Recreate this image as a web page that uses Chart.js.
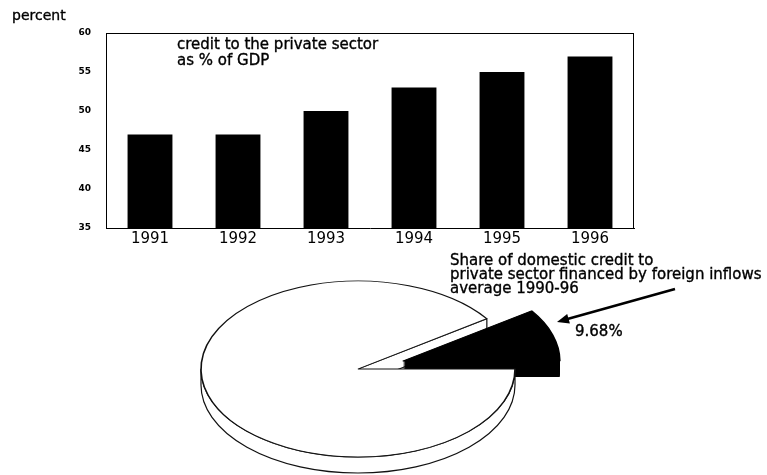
<!DOCTYPE html>
<html lang="en">
<head>
<meta charset="UTF-8">
<title>Credit to the private sector</title>
<script src="https://cdn.jsdelivr.net/npm/chart.js"></script>
<style>
    body {
        margin: 0;
        width: 767px;
        height: 475px;
        overflow: hidden;
        background: #fff;
        position: relative;
        font-family: 'DejaVu Sans', sans-serif;
        color: #000;
    }

    canvas { position: absolute; left: 0; }
    #grafico-barras { top: 0; }
    #grafico-pizza { top: 240px; }

    .texto { position: absolute; white-space: nowrap; -webkit-text-stroke: 0.35px #000; }
    #percent { left: 12px; top: 8px; font-size: 14px; line-height: 14px; }
    #credito { left: 177px; top: 36px; font-size: 15px; line-height: 16px; }
    #parcela { left: 450px; top: 253px; font-size: 15px; line-height: 14px; }
    #valor { left: 575px; top: 324px; font-size: 15px; line-height: 15px; }
</style>
</head>

<body>
    <canvas id="grafico-barras" width="767" height="250"></canvas>
    <canvas id="grafico-pizza" width="767" height="235"></canvas>

    <div class="texto" id="percent">percent</div>
    <div class="texto" id="credito">credit to the private sector<br>as % of GDP</div>
    <div class="texto" id="parcela">Share of domestic credit to<br>private sector financed by foreign inflows<br>average 1990-96</div>
    <div class="texto" id="valor"></div>

<script>
    // bar chart data
    const years = ['1991', '1992', '1993', '1994', '1995', '1996'];
    const creditGdp = [47, 47, 50, 53, 55, 57];
    const yTicks = [35, 40, 45, 50, 55, 60];

    // pie data (percent of domestic credit)
    const sliceNames = ['Financed by foreign inflows', 'Other'];
    const sliceShare = [9.68, 90.32];

    // 3d look of the pie
    const SQUASH = 88 / 157;
    const DEPTH = 16;
    const EXPLODE = [47, 0];

    Chart.defaults.font.family = "'DejaVu Sans', sans-serif";
    Chart.defaults.color = '#000';

    document.getElementById('valor').textContent = sliceShare[0].toFixed(2) + '%';

    // box around the plot (top and right sides)
    const frame = {
        id: 'frame',
        afterDraw(chart) {
            const { ctx, chartArea: a } = chart;
            ctx.save();
            ctx.strokeStyle = '#000';
            ctx.lineWidth = 1;
            ctx.beginPath();
            ctx.moveTo(a.left, a.top + 0.5);
            ctx.lineTo(a.right, a.top + 0.5);
            ctx.moveTo(a.right - 0.5, a.top);
            ctx.lineTo(a.right - 0.5, a.bottom);
            ctx.stroke();
            ctx.restore();
        }
    };

    function gerarGraficoBarra() {
        new Chart(document.getElementById('grafico-barras'), {
            type: 'bar',
            data: {
                labels: years,
                datasets: [{
                    data: creditGdp,
                    backgroundColor: '#000',
                    borderWidth: 0,
                    categoryPercentage: 1,
                    barPercentage: 0.51
                }]
            },
            options: {
                responsive: false,
                animation: false,
                devicePixelRatio: 1,
                layout: { padding: { top: 33, left: 0, right: 133, bottom: 2 } },
                scales: {
                    x: {
                        grid: { display: false, drawTicks: false },
                        border: { display: true, color: '#000', width: 1 },
                        ticks: { padding: 2, maxRotation: 0, autoSkip: false, font: { size: 15 } },
                        afterFit(scale) { scale.height = 20; }
                    },
                    y: {
                        min: yTicks[0],
                        max: yTicks[yTicks.length - 1],
                        grid: { display: false, drawTicks: false },
                        border: { display: true, color: '#000', width: 1 },
                        ticks: { padding: 15, font: { size: 9, weight: 'bold' } },
                        afterBuildTicks(scale) { scale.ticks = yTicks.map(v => ({ value: v })); },
                        afterFit(scale) { scale.width = 106; }
                    }
                },
                plugins: { legend: { display: false }, tooltip: { enabled: false } }
            },
            plugins: [frame]
        });
    }

    function drawTop(ctx, arc, s) {
        ctx.save();
        ctx.translate(arc.x + s.dx, arc.y + s.dy);
        ctx.scale(1, SQUASH);
        ctx.translate(-arc.x, -arc.y);
        arc.draw(ctx);
        ctx.restore();
    }

    // tilted pie: draws the arcs of the library squashed, with sides
    const pie3d = {
        id: 'pie3d',
        beforeDatasetsDraw(chart) {
            const ctx = chart.ctx;
            const arcs = chart.getDatasetMeta(0).data;
            const slice = arcs[0], rest = arcs[1];
            const shift = arcs.map((a, i) => {
                const mid = (a.startAngle + a.endAngle) / 2;
                return { dx: Math.cos(mid) * EXPLODE[i], dy: Math.sin(mid) * EXPLODE[i] * SQUASH };
            });
            const cx = rest.x, cy = rest.y, r = rest.outerRadius, ry = r * SQUASH;

            ctx.save();
            ctx.lineWidth = 1.2;
            ctx.strokeStyle = '#111';
            ctx.lineJoin = 'round';

            // cut face of the big slice, seen through the gap
            const e = rest.endAngle;
            const px = cx + r * Math.cos(e), py = cy + ry * Math.sin(e);
            ctx.beginPath();
            ctx.moveTo(cx, cy);
            ctx.lineTo(px, py);
            ctx.lineTo(px, py + DEPTH);
            ctx.lineTo(cx, cy + DEPTH);
            ctx.closePath();
            ctx.fillStyle = '#fff';
            ctx.fill();
            ctx.stroke();

            // exploded slice
            const s = shift[0];
            ctx.fillStyle = slice.options.backgroundColor;
            for (let t = DEPTH; t > 0; t--) {
                ctx.beginPath();
                ctx.moveTo(cx + s.dx, cy + s.dy + t);
                ctx.ellipse(cx + s.dx, cy + s.dy + t, r, ry, 0, slice.startAngle, slice.endAngle);
                ctx.closePath();
                ctx.fill();
            }
            drawTop(ctx, slice, s);

            // front rim of the big slice
            ctx.beginPath();
            ctx.ellipse(cx, cy, r, ry, 0, 0, Math.PI);
            ctx.ellipse(cx, cy + DEPTH, r, ry, 0, Math.PI, 0, true);
            ctx.closePath();
            ctx.fillStyle = '#fff';
            ctx.fill();
            ctx.stroke();

            drawTop(ctx, rest, shift[1]);
            ctx.restore();
            return false;
        },
        afterDraw(chart) {
            // arrow pointing at the slice
            const ctx = chart.ctx;
            const x0 = 675, y0 = 49, x1 = 557, y1 = 82;
            const ang = Math.atan2(y1 - y0, x1 - x0);
            const c = Math.cos(ang), sn = Math.sin(ang);
            ctx.save();
            ctx.strokeStyle = '#000';
            ctx.fillStyle = '#000';
            ctx.lineWidth = 2.6;
            ctx.beginPath();
            ctx.moveTo(x0, y0);
            ctx.lineTo(x1 - 9 * c, y1 - 9 * sn);
            ctx.stroke();
            ctx.beginPath();
            ctx.moveTo(x1, y1);
            ctx.lineTo(x1 - 12 * c + 5 * sn, y1 - 12 * sn - 5 * c);
            ctx.lineTo(x1 - 12 * c - 5 * sn, y1 - 12 * sn + 5 * c);
            ctx.closePath();
            ctx.fill();
            ctx.restore();
        }
    };

    function gerarGraficoPizza() {
        new Chart(document.getElementById('grafico-pizza'), {
            type: 'pie',
            data: {
                labels: sliceNames,
                datasets: [{
                    data: sliceShare,
                    backgroundColor: ['#000', '#fff'],
                    borderColor: ['#000', '#111'],
                    borderWidth: 1.6
                }]
            },
            options: {
                responsive: false,
                animation: false,
                devicePixelRatio: 1,
                radius: 157,
                rotation: 90 - sliceShare[0] * 3.6,
                layout: { padding: { top: 23, left: 0, right: 51, bottom: 0 } },
                plugins: { legend: { display: false }, tooltip: { enabled: false } }
            },
            plugins: [pie3d]
        });
    }

    window.onload = () => {
        gerarGraficoBarra();
        gerarGraficoPizza();
    };
</script>
</body>
</html>
